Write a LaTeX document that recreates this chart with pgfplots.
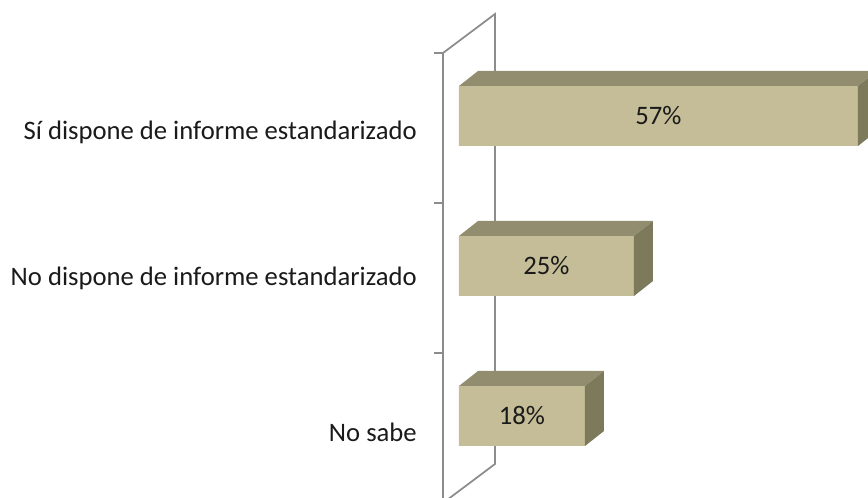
\documentclass[border=0pt]{standalone}
\usepackage{pgfplots}
\pgfplotsset{compat=1.18}
\usepackage{fontspec}
\setmainfont{Carlito}
\definecolor{barfront}{HTML}{C4BD97}
\definecolor{bartop}{HTML}{938D6F}
\definecolor{barside}{HTML}{7D7A5C}
\definecolor{wallgray}{HTML}{8C8C8C}
\definecolor{txt}{HTML}{1A1A1A}
\begin{document}
\begin{tikzpicture}
\path[use as bounding box] (0,0) rectangle (651pt,373.5pt);
\begin{axis}[
    at={(0,0)}, anchor=south west,
    scale only axis,
    width=651pt, height=373.5pt,
    xmin=-65.5714, xmax=58.4286,
    ymin=0, ymax=498,
    hide axis,
    clip=true,
]
% wall
\draw[wallgray, line width=1.3pt]
    (axis cs:-2.286,-10) -- (axis cs:-2.286,445) -- (axis cs:5.143,484)
    -- (axis cs:5.143,34) -- (axis cs:-2.286,-5);
\draw[wallgray, line width=1.3pt] (axis cs:-3.571,445) -- (axis cs:-2.286,445);
\draw[wallgray, line width=1.3pt] (axis cs:-3.571,295) -- (axis cs:-2.286,295);
\draw[wallgray, line width=1.3pt] (axis cs:-3.571,145) -- (axis cs:-2.286,145);
% bars: front faces
\addplot[xbar, bar width=60, fill=barfront, draw=none]
    coordinates {(57,382) (25,232) (18,82)};
% top faces
\addplot[fill=bartop, draw=none] coordinates {(0,412)(57,412)(59.714,427)(2.714,427)} -- cycle;
\addplot[fill=bartop, draw=none] coordinates {(0,262)(25,262)(27.714,277)(2.714,277)} -- cycle;
\addplot[fill=bartop, draw=none] coordinates {(0,112)(18,112)(20.714,127)(2.714,127)} -- cycle;
% side faces
\addplot[fill=barside, draw=none] coordinates {(57,352)(57,412)(59.714,427)(59.714,367)} -- cycle;
\addplot[fill=barside, draw=none] coordinates {(25,202)(25,262)(27.714,277)(27.714,217)} -- cycle;
\addplot[fill=barside, draw=none] coordinates {(18,52)(18,112)(20.714,127)(20.714,67)} -- cycle;
% data labels
\node[txt, font=\fontsize{20}{24}\selectfont] at (axis cs:28.5,382) {57\%};
\node[txt, font=\fontsize{20}{24}\selectfont] at (axis cs:12.5,232) {25\%};
\node[txt, font=\fontsize{20}{24}\selectfont] at (axis cs:9,82) {18\%};
% category labels
\node[txt, anchor=east, inner sep=0pt, font=\fontsize{20}{24}\selectfont] at (axis cs:-6,366) {Sí dispone de informe estandarizado};
\node[txt, anchor=east, inner sep=0pt, font=\fontsize{20}{24}\selectfont] at (axis cs:-6,220) {No dispone de informe estandarizado};
\node[txt, anchor=east, inner sep=0pt, font=\fontsize{20}{24}\selectfont] at (axis cs:-6,66) {No sabe};
\end{axis}
\end{tikzpicture}
\end{document}
